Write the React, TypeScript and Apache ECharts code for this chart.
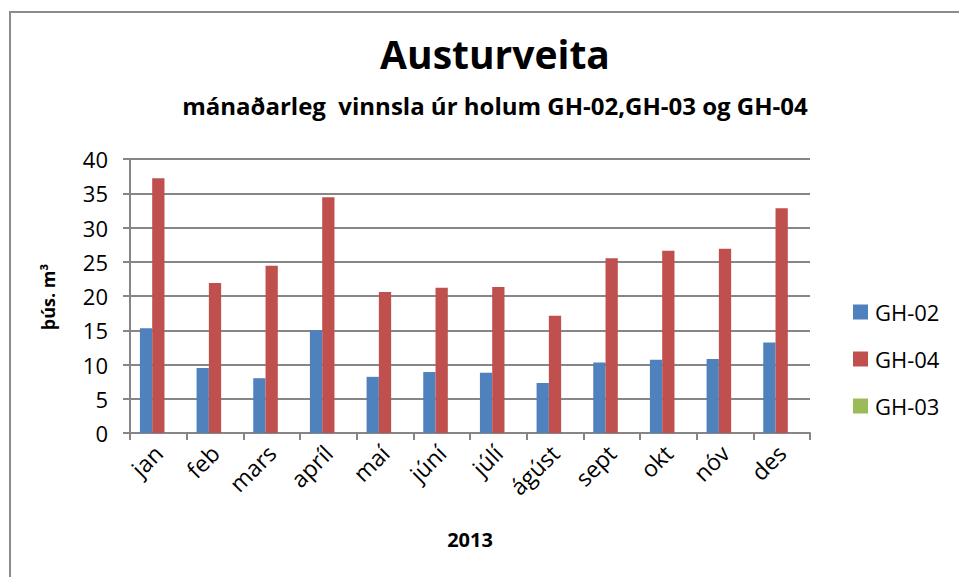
import React, { useEffect, useRef } from "react";
import * as echarts from "echarts";

const months = ["jan", "feb", "mars", "apríl", "maí", "júní", "júlí", "ágúst", "sept", "okt", "nóv", "des"];
const gh02 = [15.3, 9.5, 8.0, 15.0, 8.2, 8.9, 8.8, 7.3, 10.3, 10.7, 10.8, 13.2];
const gh04 = [37.2, 21.9, 24.4, 34.4, 20.6, 21.2, 21.3, 17.1, 25.5, 26.6, 26.9, 32.8];
const gh03: (number | null)[] = [null, null, null, null, null, null, null, null, null, null, null, null];
const yTicks = { min: 0, max: 40, interval: 5 };

const FONT = "'Open Sans', sans-serif";

export default function App() {
  const ref = useRef<HTMLDivElement>(null);
  useEffect(() => {
    if (!ref.current) return;
    const chart = echarts.init(ref.current, null, { renderer: "svg" });
    chart.setOption({
      animation: false,
      backgroundColor: "#ffffff",
      textStyle: { fontFamily: FONT, color: "#000" },
      title: [
        {
          text: "Austurveita",
          left: 490,
          top: 29,
          textAlign: "center",
          textStyle: { fontSize: 39, fontWeight: "bold", color: "#000", fontFamily: FONT },
        },
        {
          text: "mánaðarleg  vinnsla úr holum GH-02,GH-03 og GH-04",
          left: 490,
          top: 88,
          textAlign: "center",
          textStyle: { fontSize: 24, fontWeight: "bold", color: "#000", fontFamily: FONT },
        },
      ],
      graphic: [
        {
          type: "rect",
          shape: { x: 10, y: 12, width: 1000, height: 1000 },
          style: { fill: "none", stroke: "#8c8c8c", lineWidth: 2 },
          silent: true,
        },
        {
          type: "text",
          x: 48,
          y: 297,
          rotation: Math.PI / 2,
          style: {
            text: "þús. m³",
            fontSize: 18,
            fontWeight: "bold",
            fontFamily: FONT,
            fill: "#000",
            align: "center",
            verticalAlign: "middle",
          },
          silent: true,
        },
      ],
      legend: {
        orient: "vertical",
        left: 848,
        top: 296,
        itemWidth: 15,
        itemHeight: 15,
        itemGap: 25,
        icon: "rect",
        data: ["GH-02", "GH-04", "GH-03"],
        textStyle: { fontSize: 22, color: "#000", fontFamily: FONT, padding: [0, 0, 0, 2] },
      },
      grid: { left: 130, right: 149, top: 159, bottom: 144, containLabel: false },
      xAxis: {
        type: "category",
        data: months,
        name: "2013",
        nameLocation: "middle",
        nameGap: 96,
        nameTextStyle: { fontSize: 20, fontWeight: "bold", color: "#000", fontFamily: FONT },
        axisLine: { lineStyle: { color: "#868686", width: 2 } },
        axisTick: { show: true, length: 7, lineStyle: { color: "#868686", width: 2 } },
        axisLabel: { rotate: 45, fontSize: 23, color: "#000", margin: 16, fontFamily: FONT },
      },
      yAxis: {
        type: "value",
        min: yTicks.min,
        max: yTicks.max,
        interval: yTicks.interval,
        axisLine: { show: true, lineStyle: { color: "#868686", width: 2 } },
        axisTick: { show: true, length: 7, lineStyle: { color: "#868686", width: 2 } },
        axisLabel: { fontSize: 22, color: "#000", margin: 22, fontFamily: FONT },
        splitLine: { show: true, lineStyle: { color: "#868686", width: 2 } },
      },
      series: [
        {
          name: "GH-02",
          type: "bar",
          data: gh02,
          itemStyle: { color: "#4F81BD" },
          barGap: "0%",
          barCategoryGap: "35%",
        },
        {
          name: "GH-04",
          type: "bar",
          data: gh04,
          itemStyle: { color: "#C0504D" },
          barGap: "0%",
          barCategoryGap: "35%",
        },
        {
          name: "GH-03",
          type: "bar",
          data: gh03,
          itemStyle: { color: "#9BBB59" },
          barGap: "0%",
          barCategoryGap: "35%",
        },
      ],
    });
    return () => chart.dispose();
  }, []);
  return (
    <div
      ref={ref}
      style={{ position: "fixed", left: 0, top: 0, width: 959, height: 577, background: "#fff" }}
    />
  );
}
